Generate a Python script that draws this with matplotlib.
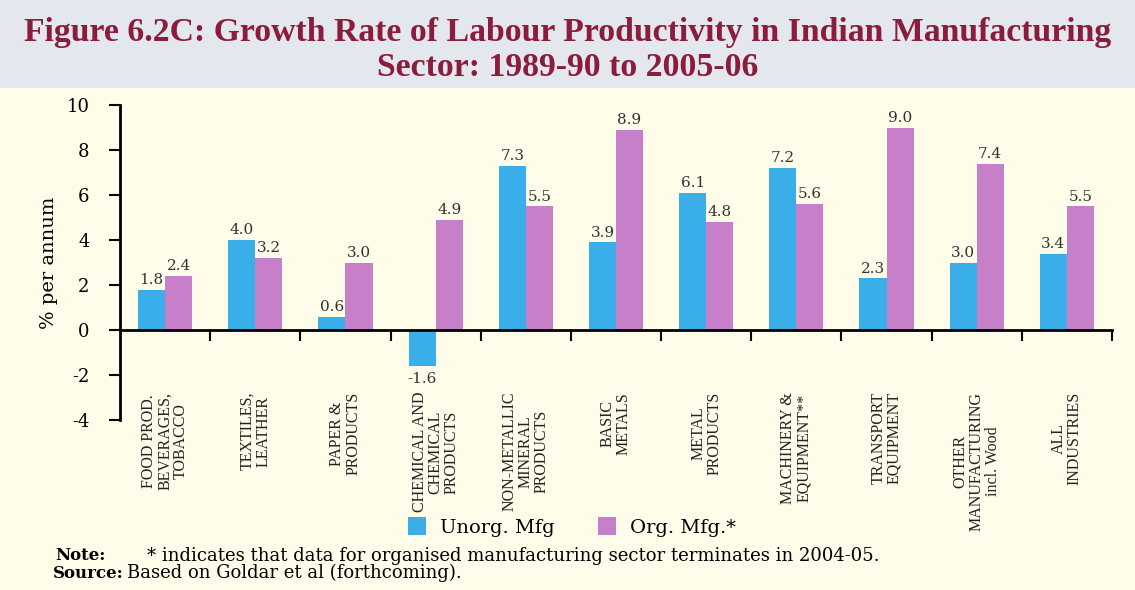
import numpy as np
import matplotlib
matplotlib.use('agg')
import matplotlib.pyplot as plt
from matplotlib.patches import Rectangle

# data
categories = ["FOOD PROD.\nBEVERAGES,\nTOBACCO", "TEXTILES,\nLEATHER", "PAPER &\nPRODUCTS",
              "CHEMICAL AND\nCHEMICAL\nPRODUCTS", "NON-METALLIC\nMINERAL\nPRODUCTS",
              "BASIC\nMETALS", "METAL\nPRODUCTS", "MACHINERY &\nEQUIPMENT**",
              "TRANSPORT\nEQUIPMENT", "OTHER\nMANUFACTURING\nincl. Wood", "ALL\nINDUSTRIES"]
unorg = [1.8, 4.0, 0.6, -1.6, 7.3, 3.9, 6.1, 7.2, 2.3, 3.0, 3.4]
org = [2.4, 3.2, 3.0, 4.9, 5.5, 8.9, 4.8, 5.6, 9.0, 7.4, 5.5]
yticks = [-4, -2, 0, 2, 4, 6, 8, 10]

blue = '#3aaee8'
pink = '#c67fc8'
cream = '#fffcea'
band = '#e4e7ee'
wine = '#8a1c3c'
serif = 'DejaVu Serif'

fig = plt.figure(figsize=(11.35, 5.9), dpi=100, facecolor=cream)
fig.patches.append(Rectangle((0, 1 - 88 / 590), 1, 88 / 590, transform=fig.transFigure,
                             facecolor=band, edgecolor='none', zorder=0))

fig.text(0.5, 1 - 33 / 590, "Figure 6.2C: Growth Rate of Labour Productivity in Indian Manufacturing",
         ha='center', va='center', fontsize=24.3, fontweight='bold', color=wine, family='Liberation Serif')
fig.text(0.5, 1 - 67 / 590, "Sector: 1989-90 to 2005-06",
         ha='center', va='center', fontsize=24.3, fontweight='bold', color=wine, family='Liberation Serif')

ax = fig.add_axes([120 / 1135, 1 - 420 / 590, (1112 - 120) / 1135, (420 - 105) / 590])
ax.set_facecolor(cream)

x = np.arange(len(categories)) + 0.5
w = 0.3
b1 = ax.bar(x - w / 2, unorg, w, color=blue, label='Unorg. Mfg')
b2 = ax.bar(x + w / 2, org, w, color=pink, label='Org. Mfg.*')

for xi, v in zip(x - w / 2, unorg):
    ax.text(xi, v + (0.12 if v >= 0 else -0.25), f"{v:.1f}", ha='center',
            va='bottom' if v >= 0 else 'top', fontsize=11, color='#333333', family=serif)
for xi, v in zip(x + w / 2, org):
    ax.text(xi, v + 0.12, f"{v:.1f}", ha='center', va='bottom', fontsize=11,
            color='#333333', family=serif)

ax.set_xlim(0, len(categories))
ax.set_ylim(-4, 10)
ax.set_yticks(yticks)
ax.set_yticklabels([str(t) for t in yticks], family=serif, fontsize=13)
ax.set_xticks(np.arange(1, len(categories) + 1))
ax.set_xticklabels([])
ax.tick_params(axis='x', direction='out', length=8, width=1.5)
ax.tick_params(axis='y', direction='out', length=8, width=1.5, pad=14)

for s in ['top', 'right']:
    ax.spines[s].set_visible(False)
ax.spines['bottom'].set_position(('data', 0))
ax.spines['bottom'].set_linewidth(2)
ax.spines['left'].set_linewidth(2)
ax.spines['left'].set_bounds(-4, 10)

ax.set_ylabel('% per annum', family=serif, fontsize=14, labelpad=6)

for xi, lab in zip(x, categories):
    ax.text(xi, -2.75, lab, rotation=90, ha='center', va='top', multialignment='center',
            fontsize=11.5, family='Liberation Serif', linespacing=1.0, color='#222222')

fig.legend(handles=[b1, b2], loc='center', bbox_to_anchor=(0.504, 1 - 527 / 590), ncol=2,
           frameon=False, prop={'family': serif, 'size': 14}, handlelength=0.95,
           handleheight=1.0, columnspacing=2.2, handletextpad=0.72)

fig.text(55 / 1135, 1 - 556 / 590, "Note:", fontweight='bold', fontsize=12, family=serif, va='center')
fig.text(147 / 1135, 1 - 556 / 590, "* indicates that data for organised manufacturing sector terminates in 2004-05.",
         fontsize=13, family=serif, va='center')
fig.text(53 / 1135, 1 - 573 / 590, "Source:", fontweight='bold', fontsize=12, family=serif, va='center')
fig.text(127 / 1135, 1 - 573 / 590, "Based on Goldar et al (forthcoming).",
         fontsize=13, family=serif, va='center')

plt.savefig('out.png', dpi=100, facecolor=cream)
